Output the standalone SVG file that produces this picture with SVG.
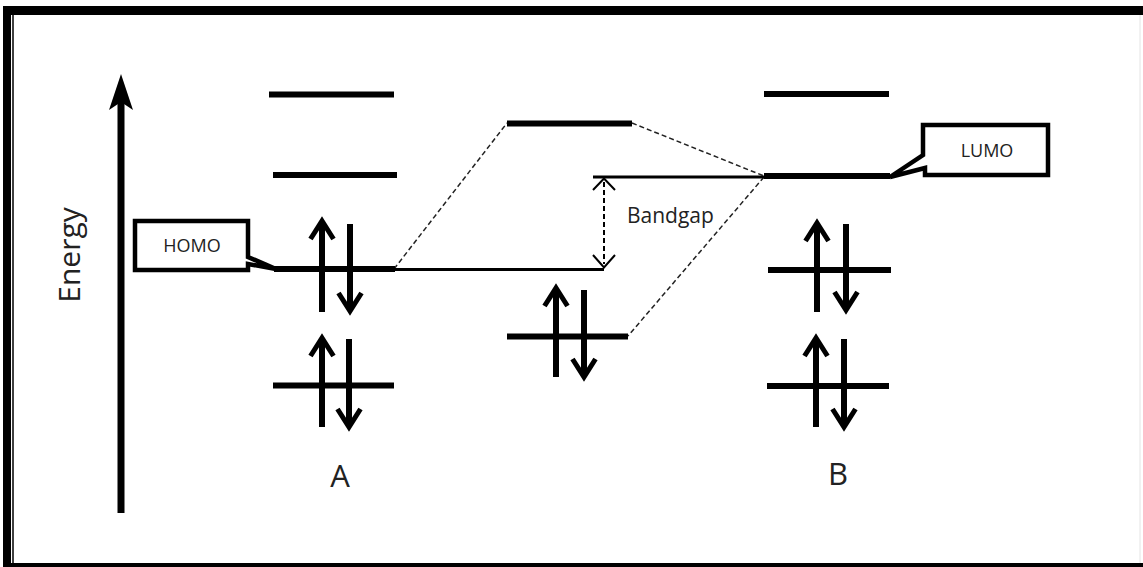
<svg xmlns="http://www.w3.org/2000/svg" width="1143" height="567" viewBox="0 0 1143 567">
<defs>
<style>
.lvl{stroke:#000;stroke-width:6;fill:none}
.thin{stroke:#000;stroke-width:3;fill:none}
.e{stroke:#000;stroke-width:6;fill:none}
.dash{stroke:#222;stroke-width:1.5;stroke-dasharray:5 3;fill:none}
.lbl{font-family:"Open Sans","Liberation Sans",sans-serif;fill:#222}
.call{fill:#fff;stroke:#000;stroke-width:4.5;stroke-linejoin:miter}
.bg{fill:none;stroke:#000;stroke-width:2}
</style>
<marker id="chev" viewBox="-20 -14 26 28" refX="0" refY="0" markerWidth="26" markerHeight="28" markerUnits="userSpaceOnUse" orient="auto" overflow="visible">
<path d="M-18,-11.5 L0,0 L-18,11.5" fill="none" stroke="#000" stroke-width="5"/>
</marker>
</defs>
<rect width="1143" height="567" fill="#fff"/>
<g id="frame">
<rect x="3" y="6" width="1140" height="9" fill="#000"/>
<rect x="3" y="6" width="8" height="561" fill="#000"/>
<line x1="13" y1="15" x2="13" y2="563" stroke="#000" stroke-width="1.5"/>
<rect x="3" y="563" width="1140" height="4" fill="#000"/>
<line x1="1140" y1="15" x2="1140" y2="563" stroke="#e4e4e4" stroke-width="1"/>
</g>
<g id="axis">
<rect x="117.5" y="100" width="7" height="413" fill="#000"/>
<path d="M121,74 L133,110 L121,102 L109,110 Z" fill="#000"/>
<text class="lbl" transform="translate(80,255) rotate(-90)" font-size="30" text-anchor="middle">Energy</text>
</g>
<g id="connectors">
<line class="dash" x1="394" y1="269" x2="507" y2="123"/>
<line class="dash" x1="632" y1="123" x2="764" y2="176"/>
<line class="dash" x1="764" y1="177" x2="628" y2="336"/>
</g>
<g id="A">
<line class="lvl" x1="269" y1="94.5" x2="394" y2="94.5" stroke-width="5"/>
<line class="lvl" x1="273" y1="175" x2="397" y2="175" stroke-width="7"/>
<line class="lvl" x1="274" y1="269" x2="395" y2="269"/>
<line class="lvl" x1="273" y1="385.5" x2="394" y2="385.5" stroke-width="7"/>
<line class="e" x1="322" y1="312" x2="322" y2="221" marker-end="url(#chev)"/>
<line class="e" x1="350" y1="224" x2="350" y2="311" marker-end="url(#chev)"/>
<line class="e" x1="322" y1="427" x2="322" y2="338" marker-end="url(#chev)"/>
<line class="e" x1="349" y1="339" x2="349" y2="427" marker-end="url(#chev)"/>
<text class="lbl" x="340" y="487" font-size="31" text-anchor="middle">A</text>
</g>
<g id="HOMO">
<path class="call" d="M135,221 H248 V257 L276,269 L248,264 V270 H135 Z"/>
<text class="lbl" x="192" y="252" font-size="18" text-anchor="middle">HOMO</text>
</g>
<g id="middle">
<line class="lvl" x1="507" y1="123.5" x2="632" y2="123.5" stroke-width="6"/>
<line class="thin" x1="593" y1="177" x2="766" y2="177"/>
<line class="thin" x1="394" y1="269.5" x2="604" y2="269.5"/>
<line class="lvl" x1="507" y1="336.5" x2="628" y2="336.5" stroke-width="6"/>
<line class="e" x1="556" y1="377" x2="556" y2="288" marker-end="url(#chev)"/>
<line class="e" x1="584" y1="290" x2="584" y2="377" marker-end="url(#chev)"/>
</g>
<g id="bandgap">
<line x1="604" y1="182" x2="604" y2="264" stroke="#000" stroke-width="2" stroke-dasharray="5 3"/>
<path class="bg" d="M593,190 L604,178.5 L615,190"/>
<path class="bg" d="M593,255 L604,267.5 L615,255"/>
<text class="lbl" x="627" y="223" font-size="21">Bandgap</text>
</g>
<g id="B">
<line class="lvl" x1="764" y1="94" x2="889" y2="94" stroke-width="5"/>
<line class="lvl" x1="764" y1="176" x2="890" y2="176" stroke-width="6"/>
<line class="lvl" x1="768" y1="270" x2="891" y2="270"/>
<line class="lvl" x1="767" y1="386" x2="889" y2="386"/>
<line class="e" x1="817" y1="312" x2="817" y2="223" marker-end="url(#chev)"/>
<line class="e" x1="846" y1="224" x2="846" y2="310" marker-end="url(#chev)"/>
<line class="e" x1="816" y1="427" x2="816" y2="338" marker-end="url(#chev)"/>
<line class="e" x1="844" y1="339" x2="844" y2="427" marker-end="url(#chev)"/>
<text class="lbl" x="838" y="485" font-size="31" text-anchor="middle">B</text>
</g>
<g id="LUMO">
<path class="call" d="M923,125 H1048 V175 H925 V168 L890,177 L923,155 Z"/>
<text class="lbl" x="987" y="157" font-size="18" text-anchor="middle">LUMO</text>
</g>
</svg>
